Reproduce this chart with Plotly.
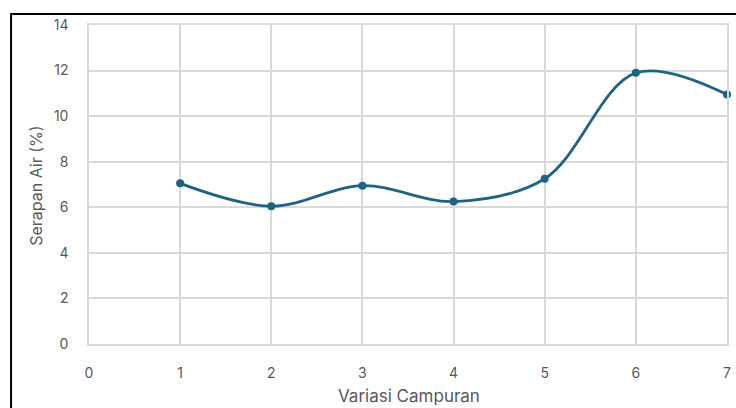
import plotly.graph_objects as go

# Water absorption per mix variation
variasi = [1, 2, 3, 4, 5, 6, 7]
serapan_air = [7.05, 6.05, 6.95, 6.25, 7.25, 11.9, 10.95]

x_ticks = [0, 1, 2, 3, 4, 5, 6, 7]
y_ticks = [0, 2, 4, 6, 8, 10, 12, 14]

x_title = "Variasi Campuran"
y_title = "Serapan Air (%)"

W, H = 736, 408
ML, MR, MT, MB = 89, 8.5, 25, 63.5
PW, PH = W - ML - MR, H - MT - MB

LINE = "#1d6384"
GRID = "#d9d9d9"
TEXT = "#595959"
FONT = "Inter"

fig = go.Figure()
fig.add_trace(go.Scatter(
    x=variasi, y=serapan_air,
    mode="lines+markers",
    line=dict(color=LINE, width=2.8, shape="spline", smoothing=1.0),
    marker=dict(color=LINE, size=8),
    showlegend=False,
    cliponaxis=False,
))

# pixel -> paper coordinate helpers for the frame and axis titles
def px_x(p):
    return (p - ML) / PW

def px_y(p):
    return 1 - (p - MT) / PH

# chart frame (extends past the right and bottom edges of the page)
fig.add_shape(type="rect", xref="paper", yref="paper",
              x0=px_x(11), x1=px_x(W + 20), y0=px_y(H + 20), y1=px_y(14),
              line=dict(color="#000000", width=2), fillcolor="rgba(0,0,0,0)",
              layer="above")

# axis titles
fig.add_annotation(text=x_title, xref="paper", yref="paper",
                   x=px_x(409), y=px_y(397), xanchor="center", yanchor="middle",
                   showarrow=False, font=dict(size=17, color=TEXT, family=FONT))
fig.add_annotation(text=y_title, xref="paper", yref="paper", textangle=-90,
                   x=px_x(36), y=px_y(186), xanchor="center", yanchor="middle",
                   showarrow=False, font=dict(size=16, color=TEXT, family=FONT))

fig.update_layout(
    width=W, height=H,
    margin=dict(l=ML, r=MR, t=MT, b=MB, pad=0, autoexpand=False),
    paper_bgcolor="white", plot_bgcolor="white",
    font=dict(family=FONT, size=14, color=TEXT),
    xaxis=dict(
        range=[0, 7], tickvals=x_ticks, ticktext=[str(v) for v in x_ticks],
        tickfont=dict(size=14, color=TEXT),
        showgrid=True, gridcolor=GRID, gridwidth=1.5,
        showline=True, linecolor=GRID, linewidth=1.5, mirror=True,
        zeroline=False, ticks="", ticklabelstandoff=15, automargin=False,
    ),
    yaxis=dict(
        range=[0, 14], tickvals=y_ticks, ticktext=[str(v) for v in y_ticks],
        tickfont=dict(size=14, color=TEXT),
        showgrid=True, gridcolor=GRID, gridwidth=1.5,
        showline=True, linecolor=GRID, linewidth=1.5, mirror=True,
        zeroline=False, ticks="", ticklabelstandoff=16, automargin=False,
    ),
)

fig.write_html("out.html")
